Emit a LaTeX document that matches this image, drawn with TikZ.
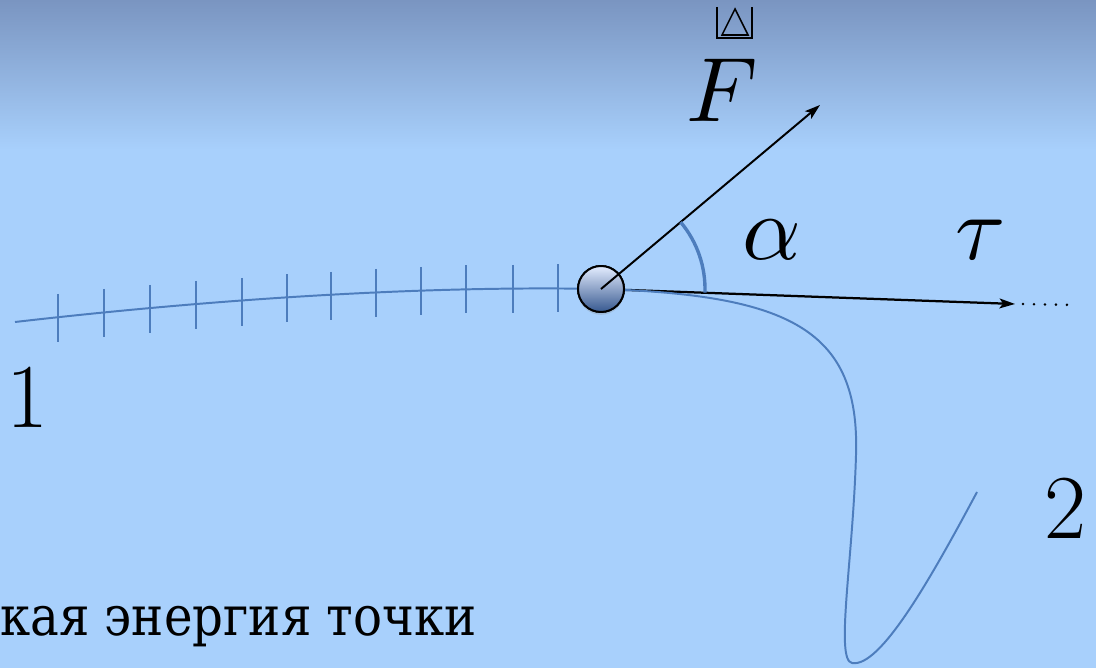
\documentclass[tikz,border=0pt]{standalone}
\usepackage{unicode-math}
\newfontfamily\capfont{DejaVu Serif}[FakeStretch=0.88]
\usetikzlibrary{arrows.meta,shadows}
\definecolor{bgtop}{HTML}{7A95C1}
\definecolor{bgblue}{HTML}{A8D0FC}
\definecolor{pathblue}{HTML}{4D7DBD}
\definecolor{balltop}{HTML}{E4EDFF}
\definecolor{ballbot}{HTML}{36588F}
\begin{document}
\begin{tikzpicture}[x=0.025cm, y=0.025cm,
    curveline/.style={pathblue, line width=1.4pt},
    tickmark/.style={pathblue, line width=1.3pt},
    vecline/.style={-{Stealth[length=11pt,width=7pt,inset=2.5pt]}, line width=1.4pt},
    ball/.style={circle, draw, line width=1.4pt, minimum size=1.15cm, inner sep=0pt,
        top color=balltop, bottom color=ballbot},
    lbl/.style={inner sep=0pt, font=\fontsize{65}{70}\selectfont}]
    % background
    \useasboundingbox (0,0) rectangle (1096,-668);
    \fill[bgblue] (0,-668) rectangle (1096,-149);
    \shade[top color=bgtop, bottom color=bgblue] (0,0) rectangle (1096,-150);

    \coordinate (start1) at (15,-322);
    \coordinate (end2) at (977,-492);
    \coordinate (Ftip) at (820,-105);
    \coordinate (tauTip) at (1015,-304);
    \coordinate (dotEnd) at (1075,-305);
    \node[ball] (pt) at (601,-289) {};

    % tangent and trajectory
    \draw[vecline, line width=1.6pt] (pt) -- (tauTip);
    \draw[line width=2pt, line cap=round, dash pattern=on 0.01pt off 7.8pt] (tauTip) ++(8,0) -- (dotEnd);
    \draw[curveline] (start1) .. controls (250,-295) and (450,-286) .. (pt.center);
    \draw[curveline] (pt.center) .. controls (790,-295) and (860,-330) .. (856,-455)
        .. controls (853,-560) and (835,-660) .. (852,-663)
        .. controls (880,-668) and (930,-580) .. (end2);
    \foreach \tx/\ty in {58/318, 104/313, 150/309, 196/305, 242/302, 287/298.5,
        331/296, 376/293, 421/291, 466/289.5, 513/289, 558/288.5}
        \draw[tickmark] ({\tx},{24-\ty}) -- ({\tx},{-24-\ty});
    \node[ball, drop shadow={opacity=0.25, shadow xshift=0pt, shadow yshift=-2pt}] at (pt) {};

    % force and angle
    \draw[vecline] (pt.center) -- (Ftip);
    \draw[pathblue, line width=2.4pt] ([shift={(-2:104)}]pt.center) arc[start angle=-2, end angle=40, radius=104];

    % labels
    \draw[line width=1.1pt] (717,-7) -- (717,-38) -- (752,-38) -- (752,-7);
    \draw[line width=1.1pt] (722,-35) -- (735,-9) -- (748,-35) -- cycle;
    \node[lbl, anchor=base] (Flbl) at (722,-122) {$F$};
    \node[lbl, anchor=base] (alphaLbl) at (772,-260) {$\alpha$};
    \node[lbl, anchor=base] (tauLbl) at (980,-260) {$\tau$};
    \node[lbl, anchor=base] (pt1) at (27,-427) {1};
    \node[lbl, anchor=base] (pt2) at (1065,-538) {2};
    \node[anchor=base west, inner sep=0pt, font=\capfont\fontsize{39}{44}\selectfont] (caption) at (0,-635) {кая энергия точки};
\end{tikzpicture}
\end{document}
